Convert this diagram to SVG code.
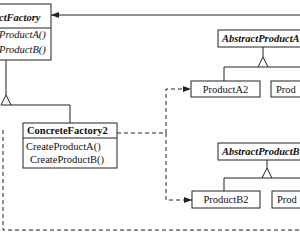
<svg xmlns="http://www.w3.org/2000/svg" width="300" height="240" viewBox="0 0 300 240">
<defs>
<style>
.box{fill:#fff;stroke:#222;stroke-width:1}
.ln{fill:none;stroke:#222;stroke-width:1}
.dash{fill:none;stroke:#222;stroke-width:1;stroke-dasharray:4 3}
.tri{fill:#fff;stroke:#222;stroke-width:1}
text{font-family:"Liberation Serif","Times New Roman",serif;font-size:10.5px;fill:#111}
.bi{font-weight:bold;font-style:italic}
.b{font-weight:bold}
.i{font-style:italic}
</style>
<marker id="ah" markerWidth="8" markerHeight="6" refX="8" refY="3" orient="auto" markerUnits="userSpaceOnUse">
<path d="M0,0 L8,3 L0,6 Z" fill="#222"/>
</marker>
</defs>
<g id="connectors">
<line class="ln" x1="300" y1="15" x2="51" y2="15" marker-end="url(#ah)"/>
<polyline class="ln" points="6,60 6,95"/>
<polygon class="tri" points="6,95 11,105 1,105"/>
<polyline class="ln" points="11,105 70,105 70,123"/>
<polyline class="ln" points="263,47 263,57"/>
<polygon class="tri" points="263,57 268,67 258,67"/>
<polyline class="ln" points="224,81 224,67 258,67"/>
<line class="ln" x1="268" y1="67" x2="300" y2="67"/>
<polyline class="ln" points="267,160 267,168"/>
<polygon class="tri" points="267,168 272,178 262,178"/>
<polyline class="ln" points="224,191 224,178 262,178"/>
<line class="ln" x1="272" y1="178" x2="300" y2="178"/>
<polyline class="dash" points="117,133 166,133"/>
<polyline class="dash" points="166,133 166,89 191,89" marker-end="url(#ah)"/>
<polyline class="dash" points="166,133 166,200 192,200" marker-end="url(#ah)"/>
<polyline class="dash" points="3,130 3,230 300,230"/>
</g>
<g id="AbstractFactory">
<rect class="box" x="-5" y="4" width="56" height="56"/>
<line class="ln" x1="-5" y1="28" x2="51" y2="28"/>
<text class="bi" x="-1" y="21">ctFactory</text>
<text class="i" x="-1" y="38">ProductA()</text>
<text class="i" x="-1" y="53">ProductB()</text>
</g>
<g id="ConcreteFactory2">
<rect class="box" x="23" y="123" width="94" height="45"/>
<line class="ln" x1="23" y1="138" x2="117" y2="138"/>
<text class="b" x="27" y="134">ConcreteFactory2</text>
<text x="26" y="150">CreateProductA()</text>
<text x="30" y="163">CreateProductB()</text>
</g>
<g id="AbstractProductA">
<rect class="box" x="218" y="30" width="90" height="17"/>
<text class="bi" x="222" y="42">AbstractProductA</text>
</g>
<g id="ProductA2">
<rect class="box" x="191" y="81" width="69" height="16"/>
<text x="225.5" y="93" text-anchor="middle">ProductA2</text>
</g>
<g id="ProductA1">
<rect class="box" x="271" y="81" width="40" height="16"/>
<text x="276" y="93">Prod</text>
</g>
<g id="AbstractProductB">
<rect class="box" x="218" y="143" width="90" height="17"/>
<text class="bi" x="222" y="155">AbstractProductB</text>
</g>
<g id="ProductB2">
<rect class="box" x="192" y="191" width="68" height="17"/>
<text x="226" y="203" text-anchor="middle">ProductB2</text>
</g>
<g id="ProductB1">
<rect class="box" x="272" y="191" width="40" height="17"/>
<text x="277" y="203">Prod</text>
</g>
</svg>
